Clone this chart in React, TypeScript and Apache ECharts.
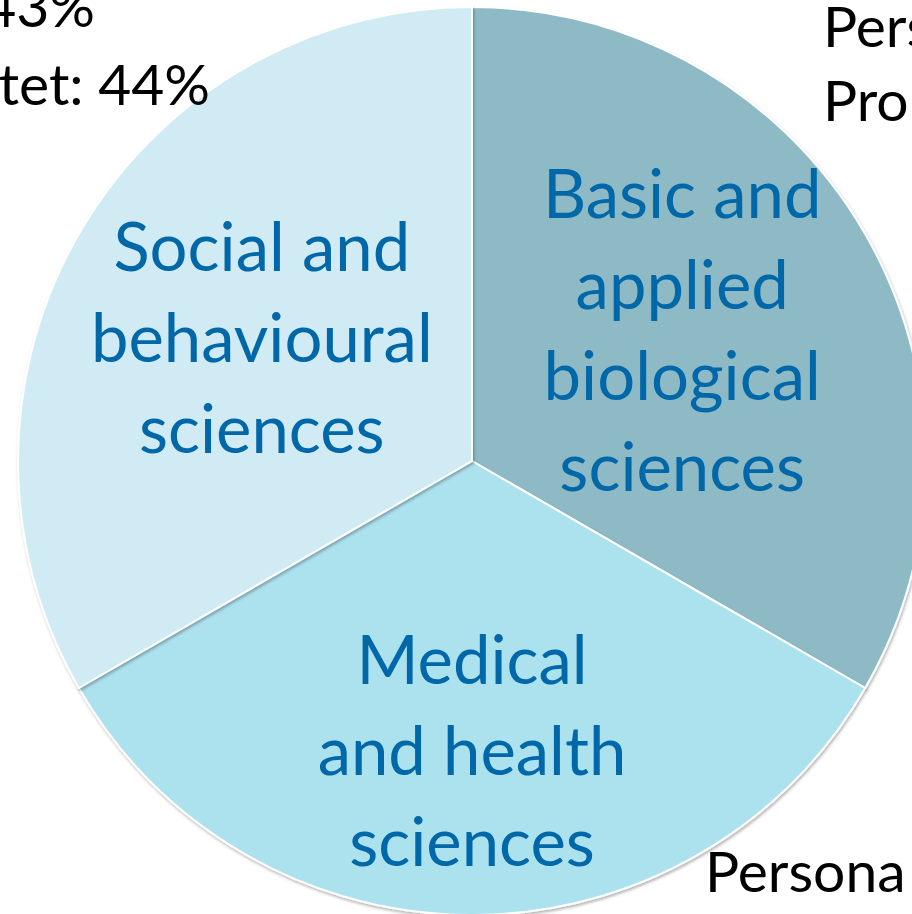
import React, { useEffect, useRef } from "react";
import * as echarts from "echarts";

const categories = [
  "Basic and\napplied\nbiological\nsciences",
  "Medical\nand health\nsciences",
  "Social and\nbehavioural\nsciences",
];
const shares = [1, 1, 1];
const sliceColors = ["#8EBAC6", "#ACE1EE", "#D0EBF3"];
const labelOffsets = [
  [11, -18],
  [0, 58],
  [-11, -10],
];
const sideTexts = ["43%", "tet: 44%", "Pers", "Pro", "Persona"];

export default function App() {
  const ref = useRef<HTMLDivElement>(null);
  useEffect(() => {
    if (!ref.current) return;
    const chart = echarts.init(ref.current, null, { renderer: "svg" });
    const font = "Lato, 'Open Sans', sans-serif";
    const black = (text: string, x: number, y: number, align: string) => ({
      type: "text",
      x,
      y,
      z: 100,
      style: { text, fontSize: 57, fontFamily: font, fill: "#000", align, verticalAlign: "middle" },
    });
    chart.setOption({
      animation: false,
      backgroundColor: "#ffffff",
      series: [
        {
          type: "pie",
          center: [472, 461],
          radius: 454,
          startAngle: 90,
          clockwise: true,
          silent: true,
          z: 2,
          itemStyle: {
            borderColor: "#ffffff",
            borderWidth: 2,
            shadowBlur: 3,
            shadowOffsetX: 1,
            shadowOffsetY: 2,
            shadowColor: "rgba(0,0,0,0.3)",
          },
          label: {
            show: true,
            position: "inside",
            color: "#0068A8",
            fontFamily: font,
            fontSize: 67,
            lineHeight: 91,
            align: "center",
          },
          labelLine: { show: false },
          data: categories.map((name, i) => ({
            name,
            value: shares[i],
            itemStyle: { color: sliceColors[i] },
            label: { offset: labelOffsets[i], formatter: name },
          })),
        },
      ],
      graphic: [
        black(sideTexts[0], 95, 5, "right"),
        black(sideTexts[1], 210, 83, "right"),
        black(sideTexts[2], 823, 25, "left"),
        black(sideTexts[3], 823, 99, "left"),
        black(sideTexts[4], 705, 870, "left"),
      ],
    });
    return () => chart.dispose();
  }, []);
  return (
    <div
      ref={ref}
      style={{ position: "fixed", left: 0, top: 0, width: 912, height: 914, overflow: "hidden" }}
    />
  );
}
